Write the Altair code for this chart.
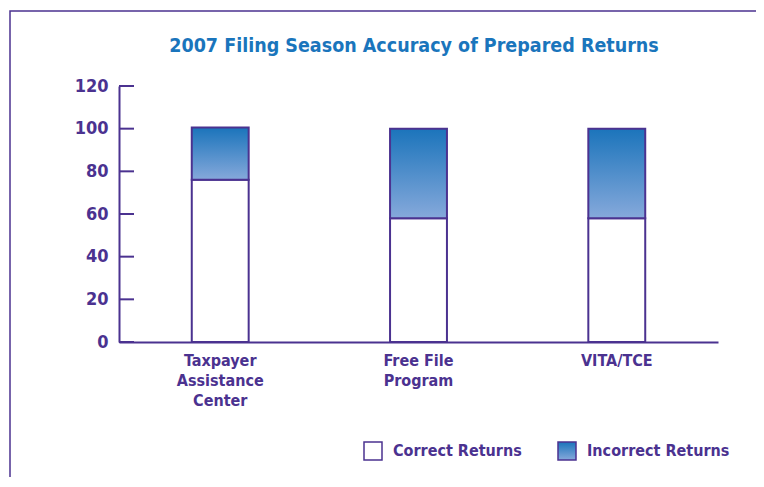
import altair as alt
import pandas as pd

programs = ["Taxpayer Assistance Center", "Free File Program", "VITA/TCE"]
label_lines = [["Taxpayer", "Assistance", "Center"], ["Free File", "Program"], ["VITA/TCE"]]
correct = [76, 58, 58]
incorrect = [24.5, 42, 42]
series = ["Correct Returns", "Incorrect Returns"]
y_ticks = [0, 20, 40, 60, 80, 100, 120]

PURPLE = "#4b3290"
BLUE = "#1a75bc"
FONT = "DejaVu Sans Condensed"

rows = []
for p, c, i in zip(programs, correct, incorrect):
    rows.append({"program": p, "series": series[0], "value": c, "order": 0})
    rows.append({"program": p, "series": series[1], "value": i, "order": 1})
df = pd.DataFrame(rows)

label_expr = " : ".join(
    f"datum.label == '{p}' ? {lines!r}" for p, lines in zip(programs, label_lines)
) + " : datum.label"

gradient_expr = (
    "{gradient: 'linear', x1: 0, y1: 0, x2: 0, y2: 1, "
    "stops: [{offset: 0, color: '#1b74bb'}, {offset: 1, color: '#86a9db'}]}"
)

bars = alt.Chart(df).mark_bar(stroke=PURPLE, strokeWidth=2).encode(
    x=alt.X(
        "program:N",
        sort=programs,
        scale=alt.Scale(paddingInner=0.713, paddingOuter=0.367),
        axis=alt.Axis(
            title=None,
            labelAngle=0,
            labelExpr=label_expr,
            labelFont=FONT,
            labelFontSize=16,
            labelFontWeight="bold",
            labelColor=PURPLE,
            labelPadding=10,
            labelLineHeight=20,
            ticks=False,
            domainColor=PURPLE,
            domainWidth=2,
        ),
    ),
    y=alt.Y(
        "value:Q",
        stack="zero",
        scale=alt.Scale(domain=[0, 120], nice=False),
        axis=alt.Axis(
            title=None,
            values=y_ticks,
            ticks=False,
            grid=False,
            labelFont=FONT,
            labelFontSize=18,
            labelFontWeight="bold",
            labelColor=PURPLE,
            labelPadding=11,
            domainColor=PURPLE,
            domainWidth=2,
        ),
    ),
    fill=alt.Fill(
        "series:N",
        scale=alt.Scale(domain=series, range=["white", {"expr": gradient_expr}]),
        legend=alt.Legend(
            title=None,
            orient="none",
            legendX=244,
            legendY=355,
            direction="horizontal",
            symbolType="square",
            symbolSize=324,
            symbolStrokeColor=PURPLE,
            symbolStrokeWidth=1.5,
            symbolOpacity=1,
            labelFont=FONT,
            labelFontSize=16,
            labelFontWeight="bold",
            labelColor=PURPLE,
            labelOffset=10,
            columnPadding=33,
            padding=0,
        ),
    ),
    order=alt.Order("order:Q"),
)

tick_df = pd.DataFrame({"v": y_ticks})
ticks = alt.Chart(tick_df).mark_rule(color=PURPLE, strokeWidth=2).encode(
    y="v:Q", x=alt.value(0), x2=alt.value(15)
)

title_df = pd.DataFrame({"t": ["2007 Filing Season Accuracy of Prepared Returns"]})
title = alt.Chart(title_df).mark_text(
    font=FONT, fontSize=19.5, fontWeight="bold", color=BLUE,
    align="center", baseline="alphabetic",
).encode(text="t:N", x=alt.value(295), y=alt.value(-34))

frame = alt.Chart(pd.DataFrame({"a": [0]})).mark_rect(
    fill=None, stroke=PURPLE, strokeWidth=1.5
).encode(
    x=alt.value(-109), x2=alt.value(700), y=alt.value(-75), y2=alt.value(460)
)

chart = alt.layer(frame, title, bars, ticks).properties(
    width=599,
    height=256,
    autosize=alt.AutoSizeParams(type="none"),
    padding={"left": 111, "top": 78, "right": 38, "bottom": 135},
).configure_view(stroke=None)

chart.save("out.html", embed_options={"renderer": "svg", "actions": False})
